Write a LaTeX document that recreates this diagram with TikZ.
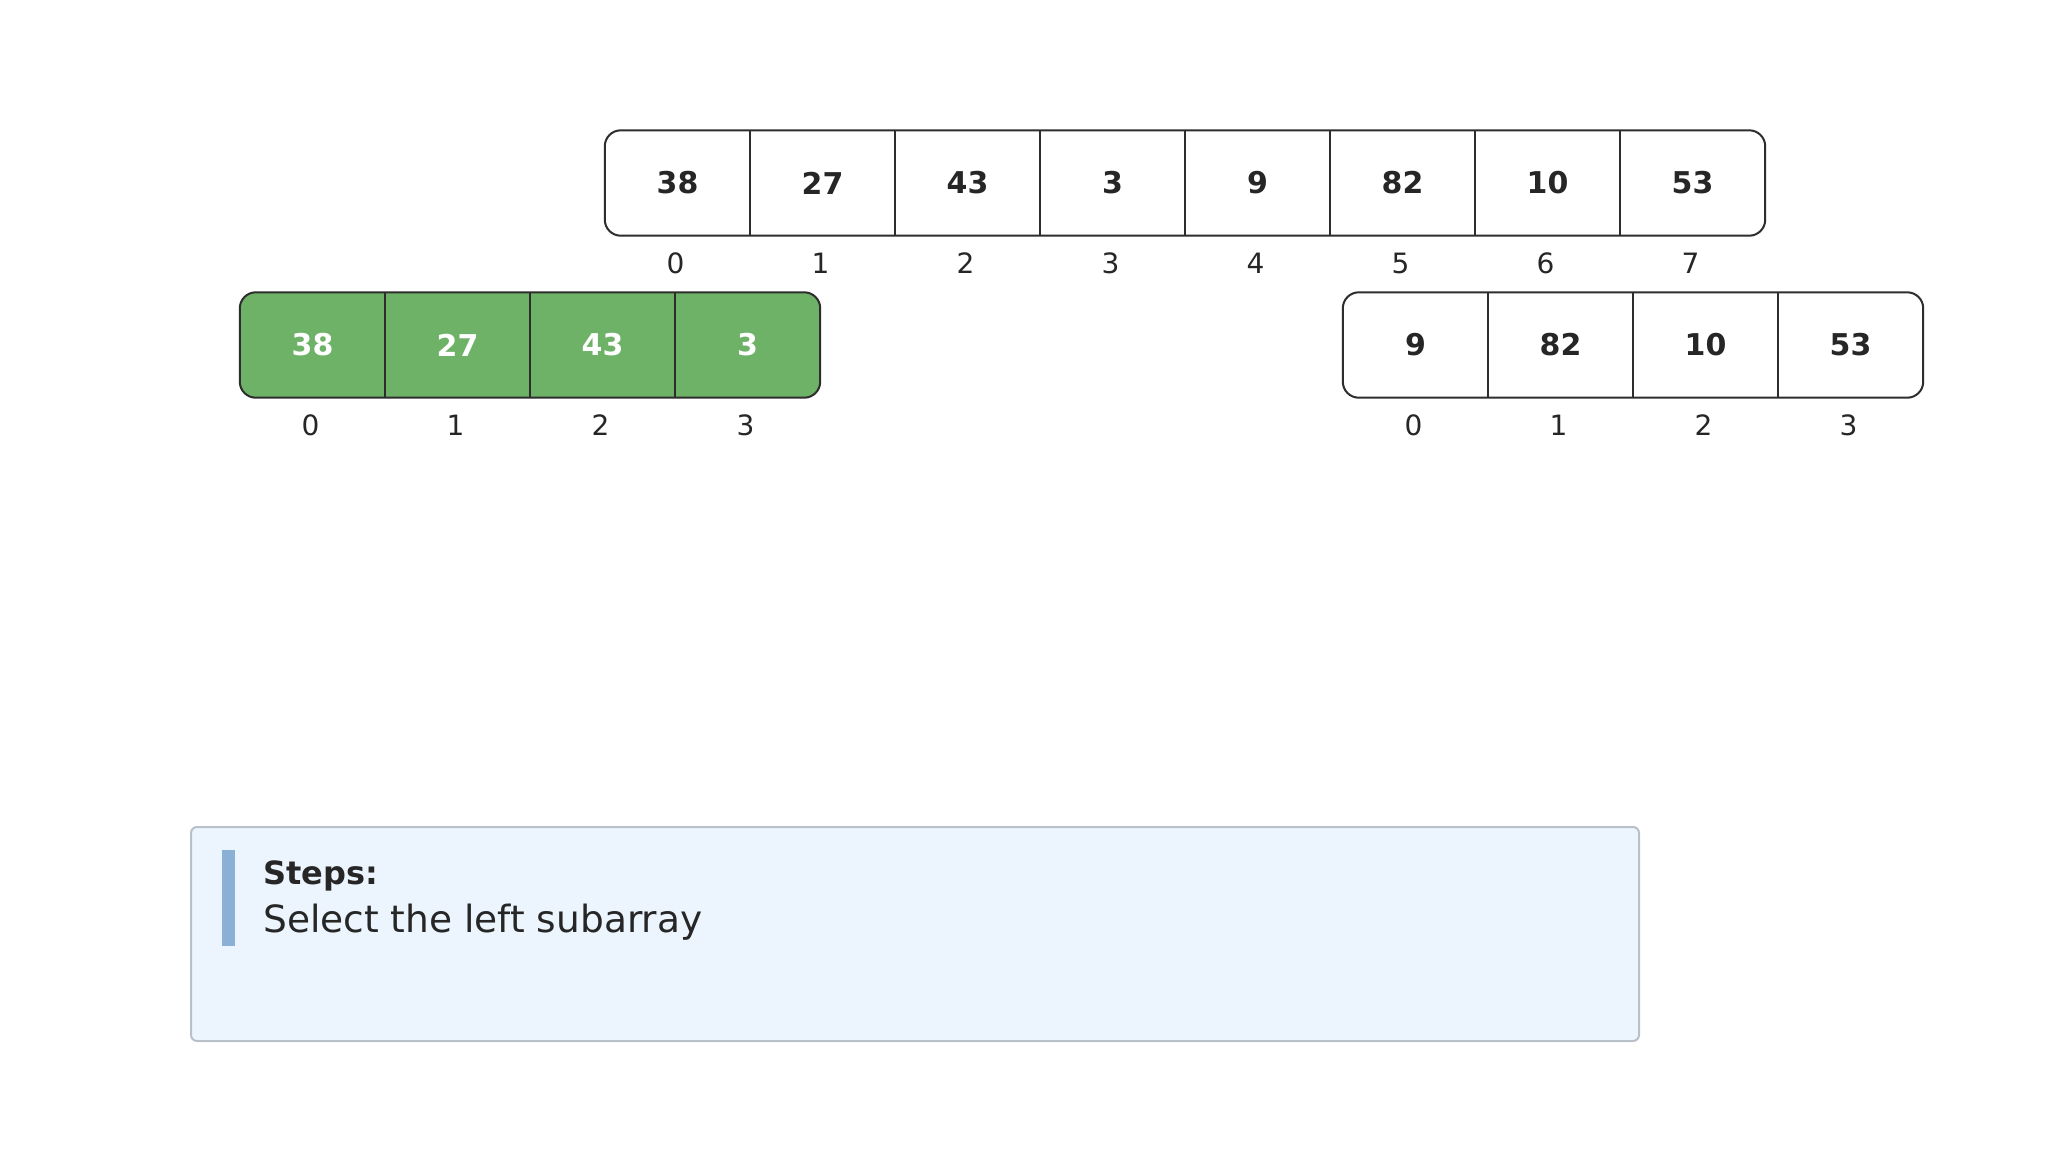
\documentclass[tikz,border=0pt]{standalone}
\usepackage{fontspec}
\setmainfont{DejaVu Sans}
\definecolor{gfill}{RGB}{110,178,104}
\definecolor{lineclr}{RGB}{45,45,45}
\definecolor{boxfill}{RGB}{236,245,253}
\definecolor{boxline}{RGB}{185,192,200}
\definecolor{barblue}{RGB}{138,176,214}
\pgfdeclarelayer{background}
\pgfsetlayers{background,main}
\begin{document}
\begin{tikzpicture}[x=1pt,y=-1pt,
  cell/.style={minimum width=145pt,minimum height=105pt,inner sep=0pt,
    font=\fontsize{30}{30}\selectfont\bfseries,text=black!85},
  gcell/.style={cell,text=white},
  idx/.style={font=\fontsize{28}{28}\selectfont,text=black!85,inner sep=0pt},
  frame/.style={draw=lineclr,line width=2pt,rounded corners=16pt},
  divline/.style={draw=lineclr,line width=2pt}]
\begin{pgfonlayer}{background}
\fill[white] (0,0) rectangle (2048,1152);
\end{pgfonlayer}
\useasboundingbox (0,0) rectangle (2048,1152);

% top array
\foreach \v [count=\i from 0] in {38,27,43,3,9,82,10,53} {
  \node[cell] (t\i) at ({677.5+145*\i},183) {\v};
  \node[idx] (ti\i) at ({675.5+145*\i},263) {\i};
}
\draw[frame] (t0.north west) rectangle (t7.south east);
\foreach \i in {0,...,6} \draw[divline] (t\i.north east) -- (t\i.south east);

% left array (green)
\foreach \v [count=\i from 0] in {38,27,43,3} {
  \node[gcell] (l\i) at ({312.5+145*\i},345) {\v};
  \node[idx] (li\i) at ({310.5+145*\i},425) {\i};
}
\begin{pgfonlayer}{background}
\draw[frame,fill=gfill] (l0.north west) rectangle (l3.south east);
\end{pgfonlayer}
\foreach \i in {0,...,2} \draw[divline] (l\i.north east) -- (l\i.south east);

% right array
\foreach \v [count=\i from 0] in {9,82,10,53} {
  \node[cell] (r\i) at ({1415.5+145*\i},345) {\v};
  \node[idx] (ri\i) at ({1413.5+145*\i},425) {\i};
}
\draw[frame] (r0.north west) rectangle (r3.south east);
\foreach \i in {0,...,2} \draw[divline] (r\i.north east) -- (r\i.south east);

% steps box
\node[draw=boxline,line width=2pt,fill=boxfill,rounded corners=6pt,
  minimum width=1448pt,minimum height=214pt,inner sep=0pt] (steps) at (915,934) {};
\node[fill=barblue,minimum width=13pt,minimum height=96pt,inner sep=0pt] (bar) at (228.5,898) {};
\node[anchor=base west,inner sep=0pt,font=\fontsize{32}{32}\selectfont\bfseries,text=black!85]
  (stitle) at (263,884) {Steps:};
\node[anchor=base west,inner sep=0pt,font=\fontsize{37.5}{37.5}\selectfont,text=black!85]
  (stext) at (263,932) {Select the left subarray};
\end{tikzpicture}
\end{document}
